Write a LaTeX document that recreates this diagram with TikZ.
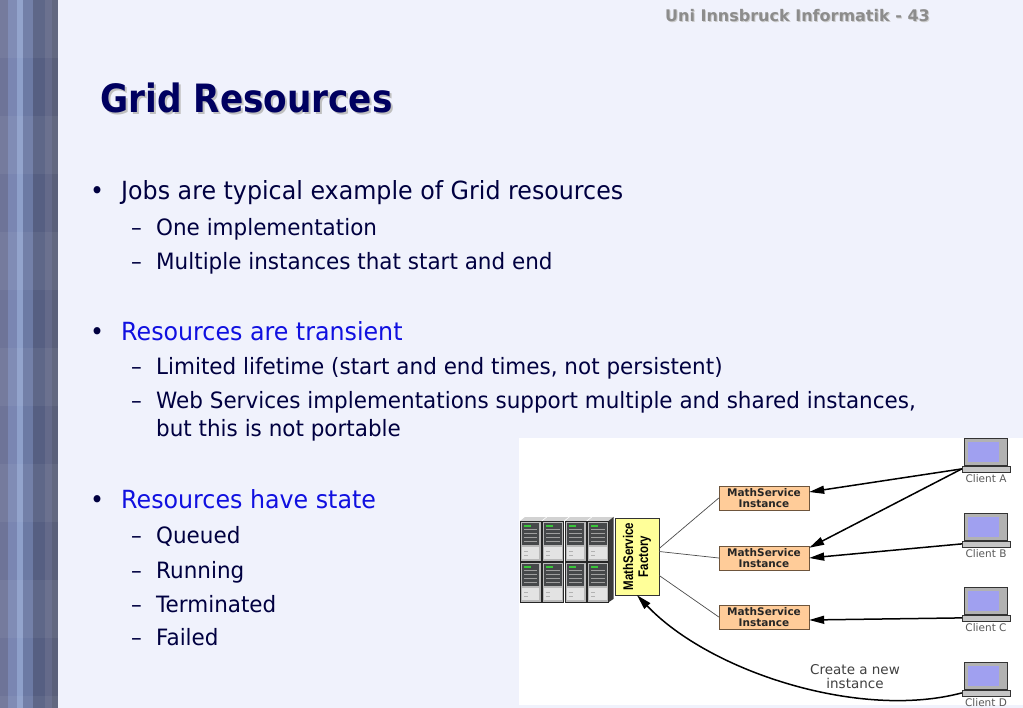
\documentclass[tikz,border=0pt]{standalone}
\usepackage{fontspec}
\setmainfont{DejaVu Sans}[FakeStretch=0.88]
\newfontfamily\figfont{DejaVu Sans}
\newfontfamily\lvlonefont{DejaVu Sans}[FakeStretch=0.95]
\newfontfamily\lvltwofont{DejaVu Sans}[FakeStretch=0.955]
\newfontfamily\narrowfont{Liberation Sans}[FakeStretch=0.82]
\usetikzlibrary{arrows.meta,positioning}

\definecolor{slidebg}{RGB}{240,242,252}
\definecolor{navytext}{RGB}{0,0,64}
\definecolor{titleblue}{RGB}{0,0,96}
\definecolor{bulletblue}{RGB}{16,16,224}
\definecolor{stripeA}{RGB}{110,116,152}
\definecolor{stripeB}{RGB}{122,134,178}
\definecolor{stripeC}{RGB}{142,160,202}
\definecolor{stripeD}{RGB}{108,122,164}
\definecolor{stripeE}{RGB}{86,95,130}
\definecolor{stripeF}{RGB}{100,106,138}
\definecolor{stripeG}{RGB}{90,96,122}
\definecolor{peach}{RGB}{255,204,153}
\definecolor{peachline}{RGB}{110,85,60}
\definecolor{factoryyellow}{RGB}{255,255,153}
\definecolor{screenblue}{RGB}{160,160,240}
\definecolor{srvdark}{RGB}{70,72,74}

\begin{document}
\begin{tikzpicture}[x=1pt, y=-1pt,
  lvlone/.style={anchor=base west, inner sep=0pt, font=\lvlonefont\fontsize{25}{30}\selectfont, text=navytext},
  lvltwo/.style={anchor=base west, inner sep=0pt, font=\lvltwofont\fontsize{22.5}{26}\selectfont, text=navytext},
  titletext/.style={anchor=base west, inner sep=0pt, font=\fontsize{39}{46}\selectfont\bfseries},
  headtext/.style={anchor=base east, inner sep=0pt, font=\figfont\bfseries\fontsize{16}{18}\selectfont},
  server/.style={draw=gray!30!black, fill=gray!55, minimum width=21pt, minimum height=40pt, inner sep=0pt},
  factory/.style={draw=gray!40!black, fill=factoryyellow, minimum width=44pt, minimum height=77pt, inner sep=0pt},
  instbox/.style={draw=peachline, fill=peach, minimum width=90pt, minimum height=24pt, inner sep=0pt, align=center,
    font=\figfont\bfseries\fontsize{10.5}{11}\selectfont, text=black!85},
  screen/.style={draw=gray!40!black, fill=gray!60, minimum width=43pt, minimum height=27pt, inner sep=0pt},
  kbd/.style={draw=gray!40!black, fill=gray!45, minimum width=48pt, minimum height=6pt, inner sep=0pt},
  clientlabel/.style={font=\figfont\fontsize{10.5}{12}\selectfont, text=gray!70!black, inner sep=0pt},
  link/.style={draw=gray!60!black, line width=0.7pt},
  arr/.style={draw=black, line width=1.5pt, -{Triangle[length=15pt,width=8pt]}}]

\useasboundingbox (0,0) rectangle (1023,708);
\fill[slidebg] (0,0) rectangle (1023,708);

% left stripe
\foreach \xa/\xb/\col in {0/8/stripeA, 8/17/stripeB, 17/23/stripeC, 23/33/stripeD, 33/45/stripeE, 45/52/stripeF, 52/58/stripeG}
  \fill[\col] (\xa,0) rectangle (\xb,708);
\foreach \ya in {0,116,...,700}
  \fill[white, opacity=0.05] (0,\ya) rectangle (58,\ya+58);

% header and title
\node[headtext, text=gray!40] at (931,23) {Uni Innsbruck Informatik - 43};
\node[headtext, text=gray!90] (head) at (930,22) {Uni Innsbruck Informatik - 43};
\node[titletext, text=gray!50] at (102,115) {Grid Resources};
\node[titletext, text=titleblue] (title) at (100,113) {Grid Resources};

% bullet list
\node[lvlone] at (90,200) {•};
\node[lvlone] (jobs) at (121,200) {Jobs are typical example of Grid resources};
\node[lvltwo] at (131,236) {–};
\node[lvltwo] at (156,236) {One implementation};
\node[lvltwo] at (131,270) {–};
\node[lvltwo] at (156,270) {Multiple instances that start and end};

\node[lvlone] at (90,341) {•};
\node[lvlone, text=bulletblue] (transient) at (121,341) {Resources are transient};
\node[lvltwo] at (131,375) {–};
\node[lvltwo] at (156,375) {Limited lifetime (start and end times, not persistent)};
\node[lvltwo] at (131,409) {–};
\node[lvltwo] at (156,409) {Web Services implementations support multiple and shared instances,};
\node[lvltwo] at (156,437) {but this is not portable};

\node[lvlone] at (90,508) {•};
\node[lvlone, text=bulletblue] (state) at (121,508) {Resources have state};
\foreach \st/\yb in {Queued/543, Running/578, Terminated/612, Failed/645} {
  \node[lvltwo] at (131,\yb) {–};
  \node[lvltwo] at (156,\yb) {\st};
}

% diagram panel
\fill[white] (519,438) rectangle (1023,705);

% servers
\foreach \i in {0,...,3} {
  \fill[gray!35] (520+22.5*\i,521) -- ++(5,-4) -- ++(21,0) -- (541+22.5*\i,521) -- cycle;
  \foreach \j in {0,1} {
    \node[server] (s\i\j) at ({530.5+22.5*\i},{541+41*\j}) {};
    \fill[srvdark] ([xshift=2pt,yshift=-2pt]s\i\j.north west) rectangle ([xshift=-2pt,yshift=-24pt]s\i\j.north east);
    \fill[green!55!gray] ([xshift=4pt,yshift=-4pt]s\i\j.north west) rectangle ([xshift=11pt,yshift=-6pt]s\i\j.north west);
    \foreach \k in {9,13,17,21}
      \draw[gray!75, line width=0.7pt] ([xshift=4pt,yshift=-\k pt]s\i\j.north west) -- ([xshift=-4pt,yshift=-\k pt]s\i\j.north east);
    \fill[gray!22] ([xshift=2pt,yshift=-26pt]s\i\j.north west) rectangle ([xshift=-2pt,yshift=2pt]s\i\j.south east);
    \foreach \k in {30,34}
      \draw[gray!60, line width=0.5pt] ([xshift=4pt,yshift=-\k pt]s\i\j.north west) -- ([xshift=8pt,yshift=-\k pt]s\i\j.north west);
  }
}
\fill[gray!45!black] (s30.north east) -- ++(5,-4) -- ++(0,82) -- (s31.south east) -- cycle;

% factory and instances
\node[factory] (fac) at (637,556.5) {};
\node[rotate=90, align=center, inner sep=0pt, font=\narrowfont\bfseries\fontsize{14}{15}\selectfont] at (fac.center) {MathService\\Factory};

\node[instbox] (i1) at (764,498) {MathService\\Instance};
\node[instbox] (i2) at (764,558) {MathService\\Instance};
\node[instbox] (i3) at (764,617) {MathService\\Instance};

\draw[link] ([yshift=8pt]fac.east) -- (i1.west);
\draw[link] ([yshift=5pt]fac.east) -- (i2.west);
\draw[link] ([yshift=-19pt]fac.east) -- (i3.west);

% clients
\foreach \c/\y in {A/452,B/527,C/601,D/676} {
  \node[screen] (scr\c) at (986,\y) {};
  \fill[screenblue] ([xshift=4pt,yshift=-4pt]scr\c.north west) rectangle ([xshift=-9pt,yshift=4pt]scr\c.south east);
  \node[kbd, below=0pt of scr\c] (c\c) {};
  \node[clientlabel, below=2pt of c\c] {Client \c};
}

% requests
\draw[arr] (cA.west) -- ([yshift=6pt]i1.east);
\draw[arr] (cA.west) -- ([yshift=-2pt]i2.north east);
\draw[arr] (cB.west) -- (i2.east);
\draw[arr] (cC.west) -- ([yshift=-3pt]i3.east);
\draw[arr] (cD.west) .. controls (860,720) and (710,672) .. (fac.south);
\node[align=center, inner sep=0pt, font=\figfont\fontsize{13.5}{14}\selectfont, text=black!75] (create) at (855,677) {Create a new\\instance};
\end{tikzpicture}
\end{document}
